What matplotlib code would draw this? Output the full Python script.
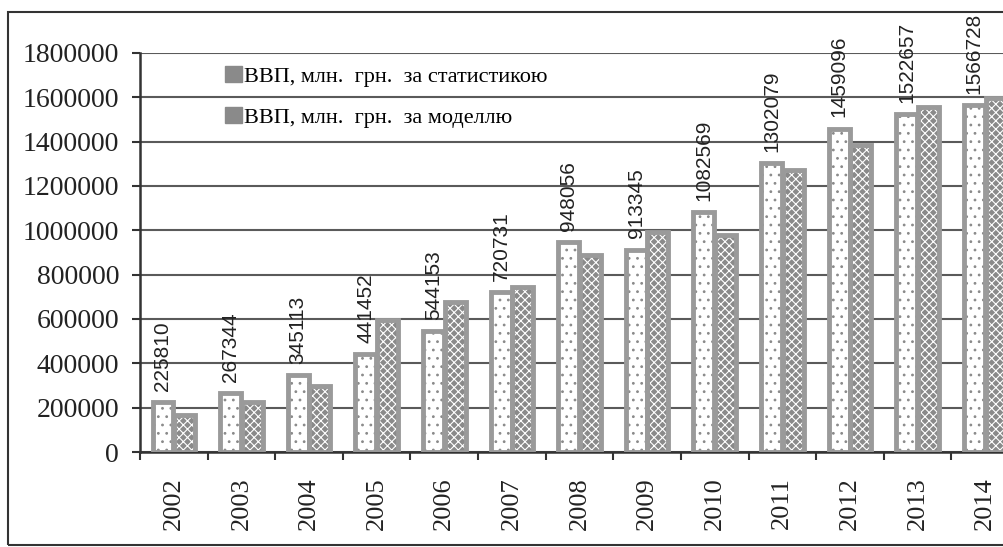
import matplotlib
matplotlib.use('Agg')
import matplotlib.pyplot as plt
from matplotlib.patches import Patch, Rectangle
import numpy as np

years = ['2002', '2003', '2004', '2005', '2006', '2007', '2008',
         '2009', '2010', '2011', '2012', '2013', '2014']
gdp_stat = [225810, 267344, 345113, 441452, 544153, 720731, 948056,
            913345, 1082569, 1302079, 1459096, 1522657, 1566728]
gdp_model = [167000, 225000, 300000, 595000, 678000, 746000, 889000,
             994000, 979000, 1272000, 1385000, 1555000, 1596000]
yticks = list(range(0, 1800001, 200000))
legend_labels = ['ВВП, млн.  грн.  за статистикою', 'ВВП, млн.  грн.  за моделлю']

plt.rcParams['hatch.linewidth'] = 0.8
W, H = 1004, 547
fig = plt.figure(figsize=(W / 100, H / 100), dpi=100)
fig.patch.set_facecolor('white')
ax = fig.add_axes([140 / W, (H - 452) / H, (1019 - 140) / W, (452 - 53) / H])

x = np.arange(len(years))
bw = 0.31
off = 0.16
edge = '#9a9a9a'
model_face = '#8a8a8a'

ax.bar(x - off, gdp_stat, bw, color='white', edgecolor='#8a8a8a', hatch='..',
       linewidth=0, zorder=3)
ax.bar(x - off, gdp_stat, bw, fill=False, edgecolor=edge, linewidth=3.5, zorder=4)
ax.bar(x + off, gdp_model, bw, color=model_face, edgecolor='white', hatch='xxxx',
       linewidth=0, zorder=3)
ax.bar(x + off, gdp_model, bw, fill=False, edgecolor=edge, linewidth=3.5, zorder=4)

for xi, v in zip(x, gdp_stat):
    ax.annotate(str(v), (xi - off, v), xytext=(0, 8), textcoords='offset points',
                rotation=90, ha='center', va='bottom', fontsize=15,
                family='Liberation Sans', color='#222222', annotation_clip=False,
                zorder=6)

ax.set_xlim(-0.5, len(years) - 0.5)
ax.set_ylim(0, 1800000)
ax.set_yticks(yticks)
ax.set_yticklabels([str(t) for t in yticks], family='Liberation Serif', fontsize=20,
                   color='#222222')
ax.set_xticks(x)
ax.set_xticklabels(years, rotation=90, family='Liberation Serif', fontsize=19,
                   color='#222222')
ax.set_xticks(np.arange(len(years) + 1) - 0.5, minor=True)
ax.tick_params(axis='x', which='major', length=0, pad=18)
ax.tick_params(axis='x', which='minor', length=6, width=1.5, color='#333333')
ax.tick_params(axis='y', which='major', length=6, width=1.5, color='#333333', pad=9)

ax.yaxis.grid(True, color='#5a5a5a', linewidth=1.5, zorder=0)
ax.set_axisbelow(True)
for s in ['top', 'right']:
    ax.spines[s].set_visible(False)
for s in ['left', 'bottom']:
    ax.spines[s].set_color('#333333')
    ax.spines[s].set_linewidth(1.8)
ax.patch.set_alpha(0)

handles = [Patch(facecolor=model_face, edgecolor=model_face),
           Patch(facecolor=model_face, edgecolor=model_face)]
leg = ax.legend(handles, legend_labels, loc='upper left',
                bbox_to_anchor=(225 / W, (H - 66) / H), bbox_transform=fig.transFigure,
                frameon=False, prop={'family': 'Liberation Serif', 'size': 16},
                handlelength=0.75, handleheight=0.75, handletextpad=0.1,
                borderpad=0, borderaxespad=0, labelspacing=0.9)

fig.add_artist(Rectangle((8 / W, 2 / H), 1.2, (545 - 12) / H, transform=fig.transFigure,
                         fill=False, edgecolor='#333333', linewidth=1.5))

fig.savefig('out.png', dpi=100, facecolor='white')
